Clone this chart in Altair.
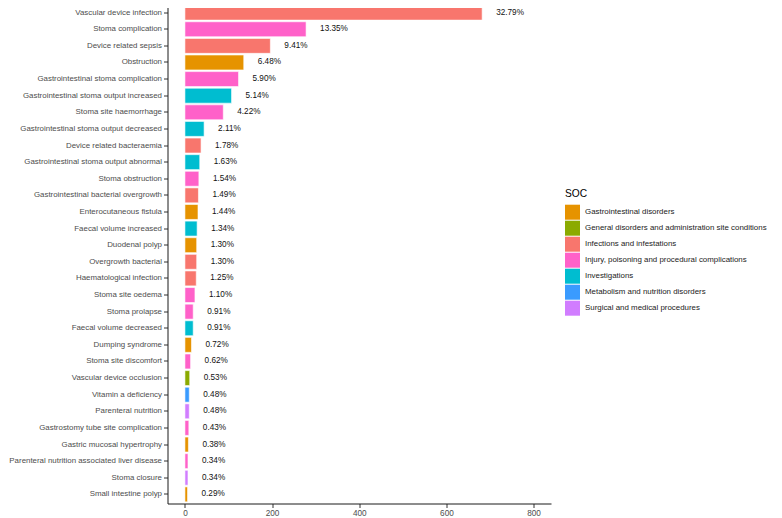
import altair as alt
import pandas as pd

terms = [
    "Vascular device infection", "Stoma complication", "Device related sepsis", "Obstruction",
    "Gastrointestinal stoma complication", "Gastrointestinal stoma output increased",
    "Stoma site haemorrhage", "Gastrointestinal stoma output decreased",
    "Device related bacteraemia", "Gastrointestinal stoma output abnormal", "Stoma obstruction",
    "Gastrointestinal bacterial overgrowth", "Enterocutaneous fistula", "Faecal volume increased",
    "Duodenal polyp", "Overgrowth bacterial", "Haematological infection", "Stoma site oedema",
    "Stoma prolapse", "Faecal volume decreased", "Dumping syndrome", "Stoma site discomfort",
    "Vascular device occlusion", "Vitamin a deficiency", "Parenteral nutrition",
    "Gastrostomy tube site complication", "Gastric mucosal hypertrophy",
    "Parenteral nutrition associated liver disease", "Stoma closure", "Small intestine polyp",
]
counts = [682, 278, 196, 135, 123, 107, 88, 44, 37, 34, 32, 31, 30, 28, 27, 27, 26, 23,
          19, 19, 15, 13, 11, 10, 10, 9, 8, 7, 7, 6]
pct_labels = ["32.79%", "13.35%", "9.41%", "6.48%", "5.90%", "5.14%", "4.22%", "2.11%",
              "1.78%", "1.63%", "1.54%", "1.49%", "1.44%", "1.34%", "1.30%", "1.30%",
              "1.25%", "1.10%", "0.91%", "0.91%", "0.72%", "0.62%", "0.53%", "0.48%",
              "0.48%", "0.43%", "0.38%", "0.34%", "0.34%", "0.29%"]
GI = "Gastrointestinal disorders"
GEN = "General disorders and administration site conditions"
INF = "Infections and infestations"
INJ = "Injury, poisoning and procedural complications"
INV = "Investigations"
MET = "Metabolism and nutrition disorders"
SUR = "Surgical and medical procedures"
socs = [INF, INJ, INF, GI, INJ, INV, INJ, INV, INF, INV, INJ, INF, GI, INV, GI, INF, INF, INJ,
        INJ, INV, GI, INJ, GEN, MET, SUR, INJ, GI, INJ, SUR, GI]
soc_levels = [GI, GEN, INF, INJ, INV, MET, SUR]
soc_colors = ["#E69300", "#8BAA00", "#F8766D", "#FF61C9", "#00BDD0", "#3A9BFF", "#D17DFF"]
x_ticks = [0, 200, 400, 600, 800]

df = pd.DataFrame({"term": terms, "n": counts, "pct": pct_labels, "SOC": socs})

FONT = "Liberation Sans, Arial, Helvetica, sans-serif"

y_enc = alt.Y("term:N", sort=terms, title=None,
              scale=alt.Scale(paddingInner=0.1, paddingOuter=0.1),
              axis=alt.Axis(labelFontSize=7.9, labelColor="#4D4D4D", labelFont=FONT,
                            tickColor="#333333", tickSize=4, labelPadding=2,
                            domainColor="#1a1a1a", domainWidth=1, labelLimit=400))
x_enc = alt.X("n:Q", title=None,
              scale=alt.Scale(domain=[-40, 840], nice=False, zero=False),
              axis=alt.Axis(values=x_ticks, grid=False, labelFontSize=8.2, labelColor="#4D4D4D",
                            labelFont=FONT, tickColor="#333333", tickSize=4, labelPadding=2,
                            domainColor="#1a1a1a", domainWidth=1))

bars = alt.Chart(df).mark_bar(stroke="white", strokeWidth=0.6, orient="horizontal").encode(
    y=y_enc,
    x=x_enc,
    x2=alt.datum(0),
    color=alt.Color("SOC:N", scale=alt.Scale(domain=soc_levels, range=soc_colors),
                    legend=alt.Legend(title="SOC", orient="none", legendX=397.5, legendY=185,
                                      titleFontSize=10.2, titleFontWeight="normal",
                                      titleColor="#000000", titleFont=FONT, titlePadding=6,
                                      labelFontSize=7.9, labelColor="#222222", labelFont=FONT,
                                      symbolType="square", symbolSize=225, symbolStrokeWidth=0,
                                      symbolOpacity=1, labelOffset=5, rowPadding=1,
                                      labelLimit=400)),
)

text = alt.Chart(df).mark_text(align="left", baseline="middle", dx=14, fontSize=8.2,
                               font=FONT, color="#111111").encode(
    y=alt.Y("term:N", sort=terms),
    x=alt.X("n:Q"),
    text="pct:N",
)

chart = alt.layer(bars, text).properties(
    width=383.5, height=500,
    autosize=alt.AutoSizeParams(type="none"),
    padding={"left": 159.5, "top": -4.5, "right": 223, "bottom": 18.5},
).configure_view(stroke=None).configure_axis(grid=False)

chart.save("out.html", embed_options={"renderer": "svg", "actions": False})
